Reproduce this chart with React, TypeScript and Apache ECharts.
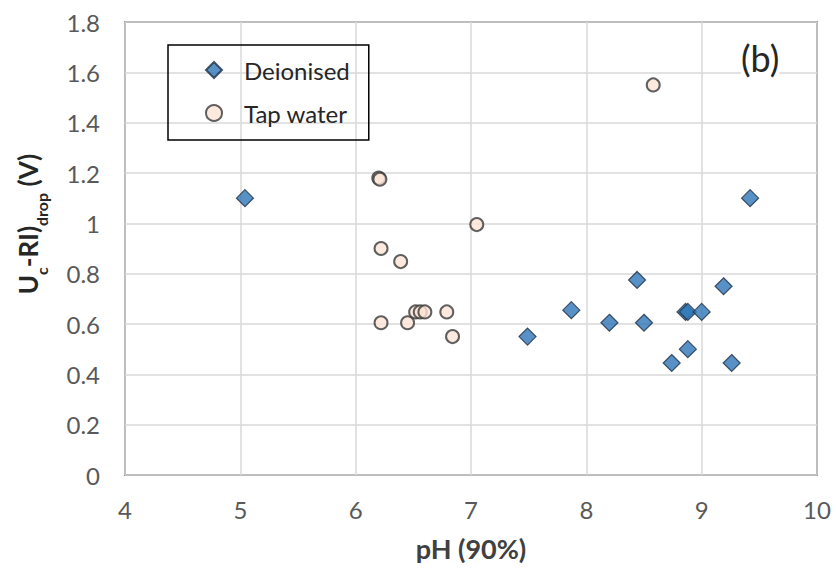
import React, { useEffect, useRef } from "react";
import * as echarts from "echarts";

const deionisedX = [5.04, 7.49, 7.87, 8.2, 8.44, 8.5, 8.74, 8.86, 8.88, 8.88, 9.0, 9.19, 9.26, 9.42];
const deionisedY = [1.1, 0.55, 0.655, 0.605, 0.775, 0.605, 0.445, 0.648, 0.648, 0.5, 0.648, 0.75, 0.445, 1.1];
const tapX = [6.2, 6.21, 6.22, 6.39, 6.22, 6.45, 6.52, 6.56, 6.6, 6.79, 6.84, 7.05, 8.58];
const tapY = [1.18, 1.175, 0.9, 0.848, 0.605, 0.605, 0.648, 0.648, 0.648, 0.648, 0.55, 0.995, 1.55];
const xTicks = [4, 5, 6, 7, 8, 9, 10];
const yTicks = [0, 0.2, 0.4, 0.6, 0.8, 1, 1.2, 1.4, 1.6, 1.8];

const FONT = "Lato, 'Open Sans', sans-serif";

export default function App() {
  const ref = useRef<HTMLDivElement>(null);
  useEffect(() => {
    const chart = echarts.init(ref.current!, null, { renderer: "svg" });
    chart.setOption({
      animation: false,
      backgroundColor: "#ffffff",
      grid: {
        left: 125,
        right: 19,
        top: 22,
        bottom: 94,
        show: true,
        borderColor: "#404040",
        borderWidth: 1.5,
        containLabel: false,
        outerBoundsMode: "none",
      },
      legend: {
        orient: "vertical",
        left: 168,
        top: 45,
        borderColor: "#000",
        borderWidth: 1.5,
        padding: [12, 19, 14, 37],
        itemGap: 17,
        itemWidth: 16,
        itemHeight: 16,
        textStyle: { fontFamily: FONT, fontSize: 24, lineHeight: 26, color: "#262626", padding: [0, 0, 0, 17] },
        data: ["Deionised", "Tap water"],
      },
      xAxis: {
        type: "value",
        min: xTicks[0],
        max: xTicks[xTicks.length - 1],
        interval: 1,
        name: "pH (90%)",
        nameLocation: "middle",
        nameGap: 60,
        nameTextStyle: { fontFamily: FONT, fontSize: 27, fontWeight: "bold", color: "#404040" },
        axisLine: { show: false },
        axisTick: { show: false },
        axisLabel: { fontFamily: FONT, fontSize: 24, color: "#595959", margin: 22 },
        splitLine: { show: true, lineStyle: { color: "#d9d9d9", width: 1.5 } },
      },
      yAxis: {
        type: "value",
        min: yTicks[0],
        max: yTicks[yTicks.length - 1],
        interval: 0.2,
        axisLine: { show: false },
        axisTick: { show: false },
        axisLabel: {
          fontFamily: FONT,
          fontSize: 24,
          color: "#595959",
          margin: 25,
          formatter: (v: number) => String(Math.round(v * 10) / 10),
        },
        splitLine: { show: true, lineStyle: { color: "#d9d9d9", width: 1.5 } },
      },
      graphic: [
        {
          type: "text",
          x: 28,
          y: 224,
          rotation: Math.PI / 2,
          z: 100,
          style: {
            text: "{b|U}{s|c}{b|-RI)}{s|drop}{b| (V)}",
            align: "center",
            verticalAlign: "middle",
            rich: {
              b: { fontFamily: FONT, fontSize: 26, fontWeight: "bold", fill: "#262626", lineHeight: 30, verticalAlign: "middle" },
              s: { fontFamily: FONT, fontSize: 16, fontWeight: "bold", fill: "#262626", lineHeight: 16, verticalAlign: "bottom", padding: [0, 0, -6, 0] },
            },
          },
        },
        {
          type: "text",
          left: 741,
          top: 40,
          z: 100,
          style: { text: "(b)", fontFamily: FONT, fontSize: 36, fill: "#262626", backgroundColor: "#ffffff" },
        },
      ],
      series: [
        {
          name: "Deionised",
          type: "scatter",
          symbol: "diamond",
          symbolSize: 17,
          itemStyle: { color: "#2e75b6", borderColor: "#1f2f45", borderWidth: 1.2 },
          data: deionisedX.map((x, i) => [x, deionisedY[i]]),
        },
        {
          name: "Tap water",
          type: "scatter",
          symbol: "circle",
          symbolSize: 13,
          itemStyle: { color: "#fce4d6", borderColor: "#3a3a3a", borderWidth: 2 },
          data: tapX.map((x, i) => [x, tapY[i]]),
        },
      ],
    });
    return () => chart.dispose();
  }, []);
  return <div ref={ref} style={{ width: 836, height: 569, position: "absolute", left: 0, top: 0 }} />;
}
